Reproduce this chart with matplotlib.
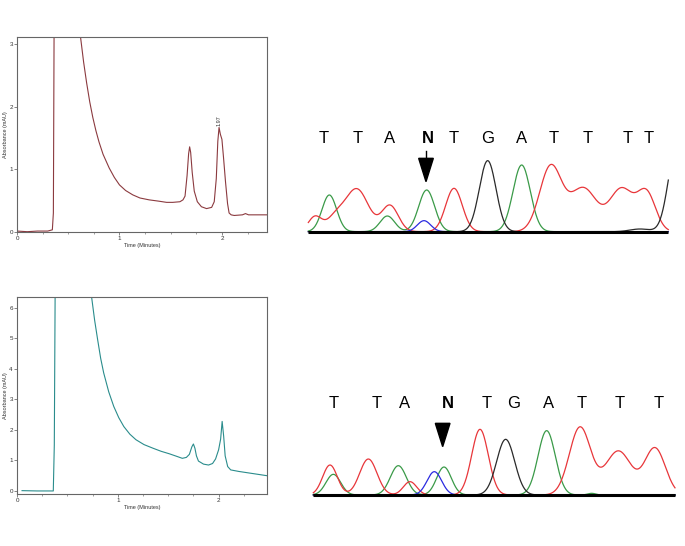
import numpy as np
import matplotlib.pyplot as plt
from matplotlib.patches import Polygon

plt.rcParams['font.family'] = ['Liberation Sans', 'DejaVu Sans']

# HPLC chromatogram, upper sample (time in minutes, absorbance)
t_top = [0.0, 0.1, 0.2, 0.3, 0.345, 0.355, 0.365, 0.55, 0.6, 0.62, 0.65, 0.68, 0.71, 0.74,
         0.77, 0.80, 0.84, 0.9, 0.95, 1.0, 1.06, 1.13, 1.2, 1.29, 1.38, 1.46, 1.52, 1.59, 1.62,
         1.64, 1.66, 1.675, 1.685, 1.695, 1.71, 1.73, 1.76, 1.8, 1.85, 1.9, 1.925, 1.945,
         1.96, 1.972, 1.985, 2.0, 2.015, 2.035, 2.055, 2.07, 2.09, 2.12, 2.2, 2.23, 2.26,
         2.35, 2.44]
a_top = [0.01, 0.0, 0.01, 0.01, 0.03, 0.3, 4.5, 4.5, 3.4, 3.12, 2.72, 2.38, 2.08, 1.83,
         1.62, 1.44, 1.24, 1.02, 0.87, 0.75, 0.66, 0.59, 0.54, 0.51, 0.49, 0.47, 0.47, 0.48, 0.51,
         0.57, 0.9, 1.25, 1.36, 1.27, 0.95, 0.65, 0.48, 0.40, 0.37, 0.39, 0.48, 0.85,
         1.45, 1.67, 1.56, 1.48, 1.2, 0.8, 0.45, 0.3, 0.27, 0.26, 0.27, 0.29, 0.27,
         0.27, 0.27]
peak_label_top = (1.972, 1.70, "1.97")

# HPLC chromatogram, lower sample
t_bot = [0.05, 0.2, 0.3, 0.36, 0.37, 0.38, 0.6, 0.72, 0.74, 0.77, 0.80, 0.83, 0.86, 0.91,
         0.96, 1.01, 1.06, 1.12, 1.18, 1.26, 1.35, 1.43, 1.51, 1.58, 1.64, 1.68, 1.71,
         1.735, 1.75, 1.765, 1.78, 1.80, 1.85, 1.90, 1.94, 1.97, 2.0, 2.02, 2.035, 2.05,
         2.065, 2.09, 2.12, 2.2, 2.32, 2.4, 2.48]
a_bot = [0.01, 0.0, 0.0, 0.0, 1.5, 7.5, 7.5, 6.6, 6.36, 5.6, 4.96, 4.35, 3.87, 3.25,
         2.77, 2.4, 2.11, 1.86, 1.68, 1.52, 1.40, 1.30, 1.22, 1.14, 1.07, 1.1, 1.2,
         1.45, 1.54, 1.4, 1.15, 0.98, 0.88, 0.85, 0.9, 1.05, 1.35, 1.7, 2.28, 1.8,
         1.15, 0.80, 0.69, 0.64, 0.58, 0.54, 0.50]

# Sequencing traces: peaks as (scan position, height, width) per channel
seq_top_letters = ["T", "T", "A", "N", "T", "G", "A", "T", "T", "T", "T"]
seq_top_pos = [70, 172, 270, 383, 460, 562, 665, 760, 862, 982, 1045]
seq_top_peaks = {
    "red": [(45, 45, 20), (105, 38, 25), (170, 128, 35), (270, 78, 25), (462, 130, 25),
            (752, 195, 33), (850, 130, 40), (965, 128, 36), (1040, 112, 27)],
    "green": [(88, 110, 22), (262, 47, 22), (380, 125, 24), (665, 200, 26)],
    "black": [(563, 213, 25), (1020, 8, 30), (1130, 255, 25)],
    "blue": [(372, 33, 20)],
}
seq_top_span = (25, 1105)

seq_bot_letters = ["T", "T", "A", "N", "T", "G", "A", "T", "T", "T"]
seq_bot_pos = [100, 230, 313, 445, 560, 640, 745, 845, 960, 1075]
seq_bot_peaks = {
    "red": [(90, 90, 22), (205, 108, 26), (330, 40, 20), (540, 197, 25),
            (840, 203, 32), (955, 132, 39), (1065, 140, 31)],
    "green": [(100, 62, 22), (295, 88, 24), (432, 84, 22), (740, 193, 26), (875, 5, 12)],
    "black": [(617, 167, 27)],
    "blue": [(403, 70, 22)],
}
seq_bot_span = (40, 1125)

trace_colors = {"red": "#e8363a", "green": "#3a9a48", "black": "#2a2a2a", "blue": "#2b2be0"}

W, H = 685, 546
fig = plt.figure(figsize=(W / 100, H / 100), dpi=100)


def px_axes(x0, y0, x1, y1):
    return fig.add_axes([x0 / W, 1 - y1 / H, (x1 - x0) / W, (y1 - y0) / H])


def hplc(ax, t, a, color, xlim, ylim, yticks):
    ax.plot(t, a, color=color, lw=0.8)
    ax.set_xlim(*xlim)
    ax.set_ylim(*ylim)
    ax.set_xticks([0, 1, 2])
    ax.set_xticks(np.arange(0, 2.5, 0.25), minor=True)
    ax.set_yticks(yticks)
    ax.tick_params(labelsize=4.5, length=2, width=0.5, colors="#555", labelcolor="#333", pad=1)
    ax.tick_params(which="minor", length=1.5, width=0.5, colors="#777")
    for s in ax.spines.values():
        s.set_color("#666")
        s.set_linewidth(0.8)
    ax.set_xlabel("Time (Minutes)", fontsize=4, color="#333", labelpad=1)
    ax.set_ylabel("Absorbance (mAU)", fontsize=4, color="#333", labelpad=1)


ax1 = px_axes(17, 37, 267, 232)
hplc(ax1, t_top, a_top, "#8b3a3f", (0, 2.44), (-0.005, 3.12), [0, 1, 2, 3])
ax1.text(peak_label_top[0], peak_label_top[1], peak_label_top[2], rotation=90,
         fontsize=4, ha="center", va="bottom", color="#333")

ax2 = px_axes(17, 297, 267, 494)
hplc(ax2, t_bot, a_bot, "#2a8c8c", (0.055, 2.48), (-0.1, 6.36), [0, 1, 2, 3, 4, 5, 6])


def seq(ax, peaks, span, base, letters, pos, arrow_x, shaft):
    x = np.linspace(span[0], span[1], 800)
    for ch in ["green", "red", "blue", "black"]:
        y = np.full_like(x, base)
        for c, h, w in peaks[ch]:
            y += h * np.exp(-(x - c) ** 2 / (2 * w ** 2))
        ax.plot(x, y, color=trace_colors[ch], lw=0.9)
    ax.plot(span, [base, base], color="black", lw=2.2, solid_capstyle="butt", zorder=5)
    for L, p in zip(letters, pos):
        ax.text(p, 305, L, fontsize=12, ha="center", va="center",
                fontweight="bold" if L == "N" else "normal")
    if shaft:
        ax.plot([arrow_x, arrow_x], [245, 266], color="black", lw=1)
    tri = Polygon([[arrow_x - 22, 245], [arrow_x + 22, 245], [arrow_x, 175]],
                  closed=True, color="black")
    ax.add_patch(tri)
    ax.set_xlim(0, 1155)
    ax.set_ylim(0, 360)
    ax.axis("off")


ax3 = px_axes(300, 120, 685, 240)
seq(ax3, seq_top_peaks, seq_top_span, 25, seq_top_letters, seq_top_pos, 378, True)

ax4 = px_axes(300, 385, 685, 505)
seq(ax4, seq_bot_peaks, seq_bot_span, 30, seq_bot_letters, seq_bot_pos, 428, False)

fig.savefig("out.png", dpi=100)
